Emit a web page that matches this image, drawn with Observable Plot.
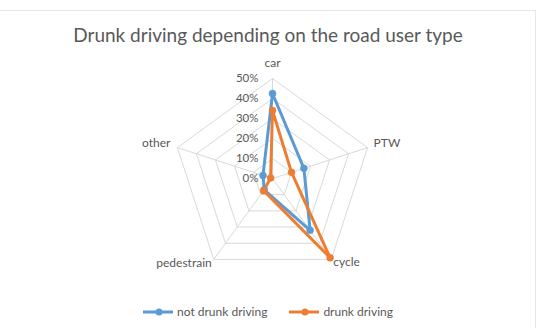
<!DOCTYPE html>
<html><head><meta charset="utf-8">
<script src="https://cdn.jsdelivr.net/npm/d3@7"></script>
<script src="https://cdn.jsdelivr.net/npm/@observablehq/plot@0.6"></script>
<style>
body{margin:0;background:#fff;font-family:Lato,"Open Sans",sans-serif;}
#wrap{position:relative;width:542px;height:328px;overflow:hidden;background:#fff;}
#frame{position:absolute;left:-1px;top:10px;width:537px;height:340px;border:1px solid #e6e6e6;box-sizing:border-box;}
#title{position:absolute;top:23px;left:0;width:536px;text-align:center;font-size:19px;line-height:24px;color:#595959;font-weight:400;}
#chart{position:absolute;top:55px;left:0;}
#legend{position:absolute;top:303px;left:143px;height:17px;display:flex;align-items:center;font-size:12px;color:#595959;line-height:17px;}
#legend .item{display:flex;align-items:center;margin-right:22px;}
#legend svg{margin-right:4px;}
</style></head>
<body>
<div id="wrap">
  <div id="frame"></div>
  <div id="title">Drunk driving depending on the road user type</div>
  <div id="chart"></div>
  <div id="legend"></div>
</div>
<script>
// ---- data ----
const categories = ["car", "PTW", "cycle", "pedestrain", "other"];
const notDrunkDriving = [42.5, 16.5, 32, 7, 5];
const drunkDriving = [34, 10, 49, 7.5, 1];
const seriesNames = ["not drunk driving", "drunk driving"];
const tickValues = [0, 10, 20, 30, 40, 50];
const tickLabels = ["0%", "10%", "20%", "30%", "40%", "50%"];

// ---- style / layout ----
const colors = ["#5B9BD5", "#ED7D31"];
const maxV = 50;
const n = categories.length;
const ang = i => (i % n) * 2 * Math.PI / n;
const px = (v, i) => v * Math.sin(ang(i));
const py = (v, i) => v * Math.cos(ang(i));

const ringRows = [];
tickValues.filter(t => t > 0).forEach(t => {
  for (let i = 0; i <= n; i++) ringRows.push({ring: t, x: px(t, i), y: py(t, i)});
});
const spokeRows = categories.map((c, i) => ({x1: 0, y1: 0, x2: px(maxV, i), y2: py(maxV, i)}));

const seriesValues = [notDrunkDriving, drunkDriving];
const seriesRows = [];
seriesValues.forEach((vals, s) => {
  for (let i = 0; i <= n; i++) {
    seriesRows.push({series: seriesNames[s], cat: categories[i % n], x: px(vals[i % n], i), y: py(vals[i % n], i), closing: i === n});
  }
});

const labelLayout = {
  car: {textAnchor: "middle", dx: 0, dy: -15},
  PTW: {textAnchor: "start", dx: 6, dy: -4},
  cycle: {textAnchor: "start", dx: 2, dy: 3},
  pedestrain: {textAnchor: "end", dx: -2, dy: 4},
  other: {textAnchor: "end", dx: -7, dy: -4}
};
const labelMarks = categories.map((c, i) => Plot.text([{c, x: px(maxV, i), y: py(maxV, i)}], {
  x: "x", y: "y", text: "c", fill: "#595959", fontSize: 12, fontFamily: "Lato",
  ...labelLayout[c]
}));

const W = 542, H = 240, cx = 272, cy = 123, k = 2;
const chart = Plot.plot({
  width: W, height: H,
  marginTop: 0, marginBottom: 0, marginLeft: 0, marginRight: 0,
  x: {domain: [-cx / k, (W - cx) / k], axis: null},
  y: {domain: [-(H - cy) / k, cy / k], axis: null},
  color: {domain: seriesNames, range: colors},
  marks: [
    Plot.line(ringRows, {x: "x", y: "y", z: "ring", stroke: "#d9d9d9", strokeWidth: 1}),
    Plot.link(spokeRows, {x1: "x1", y1: "y1", x2: "x2", y2: "y2", stroke: "#d9d9d9", strokeWidth: 1}),
    Plot.text(tickValues, {x: () => 0, y: d => d, text: (d, i) => tickLabels[i], textAnchor: "end", dx: -14, fill: "#595959", fontSize: 11.5, fontFamily: "Lato"}),
    ...labelMarks,
    Plot.line(seriesRows, {x: "x", y: "y", z: "series", stroke: "series", strokeWidth: 3, strokeLinejoin: "round"}),
    Plot.dot(seriesRows.filter(d => !d.closing), {x: "x", y: "y", fill: "series", r: 3.5, stroke: "series", strokeWidth: 0.5})
  ]
});
document.getElementById("chart").appendChild(chart);

// legend
const leg = document.getElementById("legend");
seriesNames.forEach((s, i) => {
  const item = document.createElement("div");
  item.className = "item";
  item.innerHTML = `<svg width="30" height="10"><line x1="0" y1="5" x2="30" y2="5" stroke="${colors[i]}" stroke-width="3"/><circle cx="16" cy="5" r="3.5" fill="${colors[i]}"/></svg><span>${s}</span>`;
  leg.appendChild(item);
});
</script>
</body></html>
